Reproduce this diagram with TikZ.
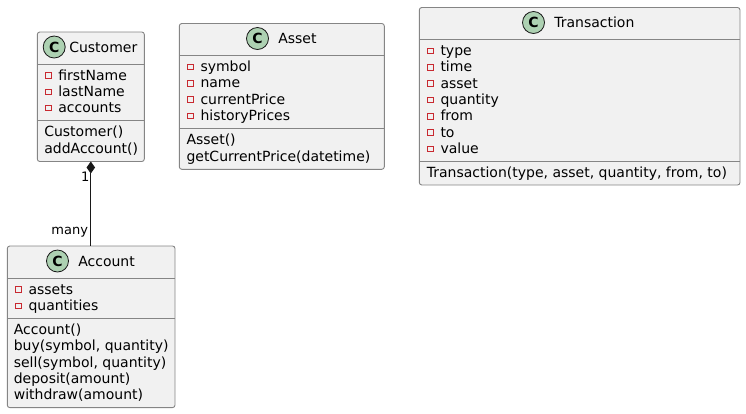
\documentclass[tikz,border=0pt]{standalone}
\usepackage{fontspec}
\setmainfont{DejaVu Sans}
\usetikzlibrary{arrows.meta}
\definecolor{boxfill}{HTML}{F1F1F1}
\definecolor{boxline}{HTML}{181818}
\definecolor{boxedge}{HTML}{858585}
\definecolor{circfill}{HTML}{ADD1B2}
\definecolor{privred}{HTML}{C82930}
\tikzset{
  classbox/.style={draw=boxedge, line width=0.9bp, fill=boxfill, rounded corners=2.5bp,
    anchor=north west, inner sep=0pt, outer sep=0pt},
  sepline/.style={draw=boxedge, line width=0.9bp},
  member/.style={anchor=base west, inner sep=0pt, outer sep=0pt,
    font=\fontsize{14bp}{16bp}\selectfont, text=black},
  badge/.style={circle, draw=boxline, line width=0.8bp, fill=circfill, minimum size=22bp,
    inner sep=0pt, font=\fontsize{14bp}{16bp}\selectfont\bfseries},
  priv/.style={rectangle, draw=privred, line width=0.9bp, fill=none, minimum size=5.5bp,
    inner sep=0pt},
  mult/.style={anchor=base east, inner sep=0pt, outer sep=0pt,
    font=\fontsize{13bp}{15bp}\selectfont},
  assoc/.style={draw=boxline, line width=1bp},
}
\begin{document}
\begin{tikzpicture}[x=1bp, y=-1bp]
\useasboundingbox (0,0) rectangle (746,413);

% ---------------- Customer ----------------
\node[classbox, minimum width=107bp, minimum height=129.5bp] (customer) at (37.3,32) {};
\draw[sepline] (customer.west |- 0,64) -- (customer.east |- 0,64);
\draw[sepline] (customer.west |- 0,120.9) -- (customer.east |- 0,120.9);
\node[badge] (customer-c) at (54.2,47) {C};
\node[member] (customer-name) at (69.3,52.3) {Customer};
\foreach \t [count=\i from 0] in {firstName,lastName,accounts}{
  \node[priv] (customer-p\i) at (48.3,{80+\i*16.3-4.5}) {};
  \node[member] (customer-a\i) at (58.3,{80+\i*16.3}) {\t};
}
\foreach \t [count=\i from 0] in {Customer(),addAccount()}{
  \node[member] (customer-m\i) at (44.3,{136.9+\i*16.3}) {\t};
}

% ---------------- Asset ----------------
\node[classbox, minimum width=205bp, minimum height=145.8bp] (asset) at (179.3,23.5) {};
\draw[sepline] (asset.west |- 0,55.5) -- (asset.east |- 0,55.5);
\draw[sepline] (asset.west |- 0,128.7) -- (asset.east |- 0,128.7);
\node[badge] (asset-c) at (257.5,38.5) {C};
\node[member] (asset-name) at (278.3,43.8) {Asset};
\foreach \t [count=\i from 0] in {symbol,name,currentPrice,historyPrices}{
  \node[priv] (asset-p\i) at (190.3,{71.5+\i*16.3-4.5}) {};
  \node[member] (asset-a\i) at (200.5,{71.5+\i*16.3}) {\t};
}
\foreach \t [count=\i from 0] in {Asset(),getCurrentPrice(datetime)}{
  \node[member] (asset-m\i) at (186.5,{144.7+\i*16.3}) {\t};
}

% ---------------- Transaction ----------------
\node[classbox, minimum width=320.7bp, minimum height=177.5bp] (transaction) at (419.3,7.5) {};
\draw[sepline] (transaction.west |- 0,39.5) -- (transaction.east |- 0,39.5);
\draw[sepline] (transaction.west |- 0,161.8) -- (transaction.east |- 0,161.8);
\node[badge] (transaction-c) at (533.5,22.5) {C};
\node[member] (transaction-name) at (554.3,27.8) {Transaction};
\foreach \t [count=\i from 0] in {type,time,asset,quantity,from,to,value}{
  \node[priv] (transaction-p\i) at (430.3,{55.5+\i*16.3-4.5}) {};
  \node[member] (transaction-a\i) at (440.5,{55.5+\i*16.3}) {\t};
}
\node[member] (transaction-m0) at (426.8,177.8) {Transaction(type, asset, quantity, from, to)};

% ---------------- Account ----------------
\node[classbox, minimum width=167.7bp, minimum height=161.6bp] (account) at (7.3,246) {};
\draw[sepline] (account.west |- 0,278) -- (account.east |- 0,278);
\draw[sepline] (account.west |- 0,318.6) -- (account.east |- 0,318.6);
\node[badge] (account-c) at (57.5,261) {C};
\node[member] (account-name) at (78.3,266.3) {Account};
\foreach \t [count=\i from 0] in {assets,quantities}{
  \node[priv] (account-p\i) at (18.3,{294+\i*16.3-4.5}) {};
  \node[member] (account-a\i) at (28.5,{294+\i*16.3}) {\t};
}
\foreach \t [count=\i from 0] in {Account(),{buy(symbol, quantity)},{sell(symbol, quantity)},{deposit(amount)},{withdraw(amount)}}{
  \node[member] (account-m\i) at (13.8,{334.6+\i*16.3}) {\t};
}

% ---------------- Composition ----------------
\draw[assoc, {Diamond[length=12bp,width=8.5bp,fill=boxline]}-] (customer.south) -- (customer.south |- account.north);
\node[mult] (mult-one) at (89.5,181) {1};
\node[mult] (mult-many) at (88,234) {many};
\end{tikzpicture}
\end{document}
